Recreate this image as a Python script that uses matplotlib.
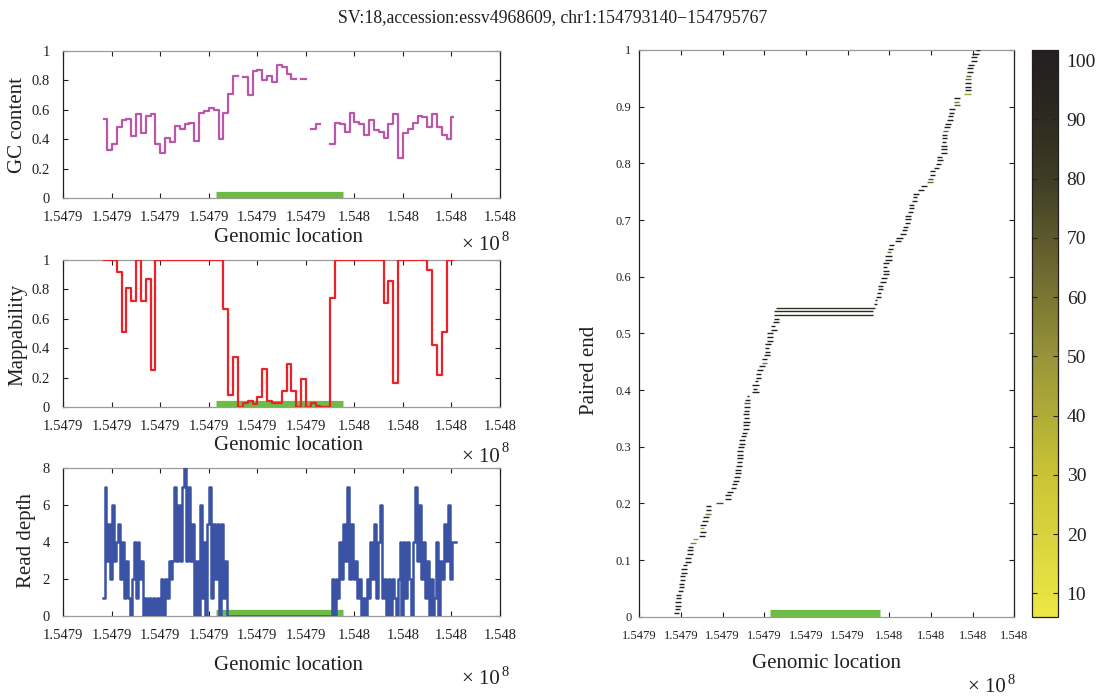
import numpy as np
import matplotlib
matplotlib.use("Agg")
import matplotlib.pyplot as plt
from matplotlib.collections import LineCollection
from matplotlib.colors import LinearSegmentedColormap, Normalize
from matplotlib.cm import ScalarMappable

plt.rcParams['font.family'] = ['Liberation Serif', 'DejaVu Serif']
TXT = '#231f20'

# ---------------- data ----------------
title = "SV:18,accession:essv4968609, chr1:154793140\u2212154795767"
sv_start, sv_end = 154793140, 154795767
xtick_vals = [154790000, 154791000, 154792000, 154793000, 154794000,
              154795000, 154796000, 154797000, 154798000, 154799000]
xtick_labels = ['1.5479', '1.5479', '1.5479', '1.5479', '1.5479', '1.5479',
                '1.548', '1.548', '1.548', '1.548']
unit_ticks = [0, 0.2, 0.4, 0.6, 0.8, 1]
unit_tick_labels = ['0', '0.2', '0.4', '0.6', '0.8', '1']
rd_ticks = [0, 2, 4, 6, 8]
pe_ticks = [0, 0.1, 0.2, 0.3, 0.4, 0.5, 0.6, 0.7, 0.8, 0.9, 1]
pe_tick_labels = ['0', '0.1', '0.2', '0.3', '0.4', '0.5', '0.6', '0.7', '0.8', '0.9', '1']
cb_ticks = [10, 20, 30, 40, 50, 60, 70, 80, 90, 100]

# GC content / mappability: 100 bp bins (first partial bin starts at 154790840)
bin_first = 154790840
bin_start = 154790900
bin_size = 100
bin_last_end = 154798030
nan = np.nan
gc_first, gc_last = 0.54, 0.55
gc_values = [0.33, 0.37, 0.48, 0.53, 0.54, 0.42, 0.57, 0.44, 0.56, 0.57,
             0.37, 0.31, 0.41, 0.38, 0.49, 0.47, 0.50, 0.51, 0.39, 0.58,
             0.59, 0.61, 0.60, 0.40, 0.58, 0.71, 0.83, nan, 0.82, 0.70,
             0.86, 0.87, 0.80, 0.83, 0.79, 0.90, 0.89, 0.84, 0.81, nan,
             0.81, nan, 0.47, 0.50, nan, nan, 0.37, 0.51, 0.50, 0.45,
             0.58, 0.52, 0.50, 0.43, 0.53, 0.46, 0.45, 0.41, 0.50, 0.57,
             0.27, 0.44, 0.47, 0.51, 0.56, 0.55, 0.48, 0.57, 0.48, 0.43,
             0.40]
map_first, map_last = 1.0, 1.0
map_values = [1.0, 1.0, 0.92, 0.51, 0.81, 0.72, 1.0, 0.72, 0.87, 0.25,
              1.0, 1.0, 1.0, 1.0, 1.0, 1.0, 1.0, 1.0, 1.0, 1.0,
              1.0, 1.0, 1.0, 1.0, 0.67, 0.08, 0.34, 0.0, 0.03, 0.04,
              0.02, 0.07, 0.26, 0.04, 0.03, 0.03, 0.11, 0.29, 0.11, 0.0,
              0.19, 0.0, 0.03, 0.01, 0.0, 0.0, 0.74, 1.0, 1.0, 1.0,
              1.0, 1.0, 1.0, 1.0, 1.0, 1.0, 1.0, 0.71, 0.86, 0.16,
              1.0, 1.0, 1.0, 1.0, 1.0, 1.0, 0.93, 0.42, 0.22, 0.51,
              1.0]

# Read depth: 40 bp bins from 154790810
rd_start = 154790810
rd_step = 40
rd_values = ([1, 7, 3, 5, 2, 6, 3, 4, 5, 2,
              4, 1, 3, 1, 0, 2, 4, 1, 4, 2,
              3, 0, 1, 0, 1, 0, 1, 0, 1, 0,
              2, 0, 2, 1, 3, 2, 3, 7, 3, 6,
              3, 7, 8, 3, 7, 3, 5, 0, 3, 0,
              6, 1, 4, 0, 5, 7, 1, 5, 2, 5,
              0, 5, 1, 3] + [0] * 54 +
             [2, 0, 2, 1, 4, 2, 5, 3, 7, 2,
              5, 2, 3, 1, 2, 0, 1, 0, 2, 1,
              4, 2, 5, 1, 4, 6, 1, 2, 0, 2,
              0, 2, 1, 0, 2, 4, 0, 4, 1, 4,
              2, 0, 4, 7, 3, 6, 2, 4, 1, 3,
              0, 2, 0, 1, 4, 0, 3, 2, 5, 3,
              6, 2, 4, 4])

# Paired-end fragments (offsets from 154790000), sorted; quality for colour
pe_origin = 154790000
pe_start = [833, 849, 849, 865, 881, 881, 929, 945, 945, 977,
            977, 993, 1009, 1041, 1089, 1105, 1137, 1153, 1169, 1217,
            1297, 1441, 1457, 1457, 1457, 1505, 1521, 1585, 1601, 1601,
            1841, 2065, 2065, 2113, 2193, 2225, 2257, 2273, 2289, 2305,
            2321, 2337, 2337, 2353, 2353, 2369, 2385, 2385, 2433, 2465,
            2481, 2497, 2497, 2513, 2497, 2513, 2513, 2513, 2545, 2577,
            2705, 2721, 2705, 2769, 2801, 2801, 2833, 2881, 2945, 2945,
            2993, 3009, 3009, 3025, 3057, 3057, 3073, 3153, 3153, 3201,
            3233, 3233, 3233, 3281, 5633, 5665, 5681, 5713, 5729, 5729,
            5777, 5793, 5857, 5857, 5857, 5857, 5905, 5905, 5953, 5969,
            6001, 6145, 6161, 6257, 6305, 6321, 6369, 6385, 6385, 6449,
            6465, 6481, 6545, 6561, 6577, 6689, 6769, 6913, 6929, 6977,
            6977, 7073, 7121, 7137, 7153, 7233, 7233, 7249, 7265, 7265,
            7265, 7281, 7313, 7345, 7377, 7409, 7425, 7425, 7553, 7553,
            7553, 7793, 7809, 7809, 7825, 7825, 7841, 7873, 7873, 7889,
            7953, 7969, 7985, 8081]
pe_end = [960, 977, 993, 993, 1009, 1009, 1057, 1073, 1073, 1105,
          1105, 1153, 1153, 1153, 1233, 1233, 1297, 1297, 1297, 1361,
          1409, 1585, 1601, 1553, 1601, 1649, 1665, 1729, 1729, 1729,
          2017, 2193, 2193, 2241, 2321, 2353, 2401, 2417, 2433, 2449,
          2465, 2465, 2481, 2481, 2481, 2513, 2529, 2529, 2561, 2593,
          2625, 2625, 2657, 2641, 2641, 2641, 2657, 2657, 2657, 2641,
          2865, 2833, 2865, 2849, 2913, 2913, 2977, 3025, 3057, 3073,
          3137, 3137, 3121, 3153, 3201, 3217, 3201, 3313, 3265, 3345,
          3353, 5601, 5601, 5649, 5713, 5713, 5809, 5809, 5857, 5841,
          5921, 5937, 5985, 5985, 5953, 5985, 6065, 6065, 6033, 6097,
          6113, 6273, 6321, 6401, 6417, 6449, 6497, 6513, 6513, 6577,
          6593, 6593, 6657, 6673, 6721, 6833, 6897, 7041, 7057, 7105,
          7105, 7185, 7249, 7281, 7265, 7377, 7377, 7377, 7361, 7377,
          7393, 7409, 7457, 7473, 7521, 7537, 7553, 7585, 7697, 7681,
          7697, 7969, 7953, 7969, 7969, 7953, 7969, 8017, 8017, 8033,
          8097, 8097, 8145, 8177]
pe_quality = [100] * 154
for idx, q in {19: 55, 20: 50, 23: 50, 27: 60, 30: 75, 57: 70, 68: 60,
               81: 88, 82: 90, 83: 85, 98: 65, 117: 65, 118: 75, 131: 65,
               138: 70, 139: 60, 141: 45, 145: 65, 146: 70}.items():
    pe_quality[idx] = q
cb_min, cb_max = 6, 101.8

# ---------------- style ----------------
GREEN = '#6dbd45'
GC_C = '#b957a8'
MAP_C = '#ec2227'
RD_C = '#3a53a4'
cmap = LinearSegmentedColormap.from_list('qual', [
    (0.0, '#ede845'), (0.25, '#c9c435'), (0.45, '#9a9639'),
    (0.62, '#6a6630'), (0.78, '#3d3a24'), (0.9, '#2a2720'), (1.0, '#231f20')])

W, H = 1105, 699
fig = plt.figure(figsize=(W / 100, H / 100), dpi=100)


def rect(l, t, r, b):
    return [l / W, 1 - b / H, (r - l) / W, (b - t) / H]


def style(ax, fs, xpad, ypad):
    for s in ['left', 'right']:
        ax.spines[s].set_color(TXT)
    for s in ['top', 'bottom']:
        ax.spines[s].set_color('#9b9b9b')
    for sp in ax.spines.values():
        sp.set_linewidth(0.9)
    ax.tick_params(direction='in', length=3.5, width=0.8, color=TXT,
                   labelcolor=TXT, labelsize=fs, top=True, right=True)
    ax.tick_params(axis='x', pad=xpad)
    ax.tick_params(axis='y', pad=ypad)


def ftext(x, y, s, **kw):
    kw.setdefault('color', TXT)
    fig.text(x / W, 1 - y / H, s, **kw)


def times10(x, y):
    ftext(x, y, '\u00d7 10', fontsize=15, ha='left', va='center')
    ftext(x + 40, y - 8, '8', fontsize=10.5, ha='left', va='center')


gc_x = [bin_first] + [bin_start + bin_size * j for j in range(len(gc_values) + 1)] + [bin_last_end]
gc_y = [gc_first] + gc_values + [gc_last, gc_last]
map_y = [map_first] + map_values + [map_last, map_last]
rd_x = [rd_start + rd_step * i for i in range(len(rd_values) + 1)]
rd_y = rd_values + [rd_values[-1]]

left_panels = [
    (rect(63.3, 50.7, 500, 198.3), gc_y, GC_C, (0, 1), unit_ticks, unit_tick_labels, 0.021, 'GC content', 125, 18),
    (rect(63.3, 260, 500, 407), map_y, MAP_C, (0, 1), unit_ticks, unit_tick_labels, 0.018, 'Mappability', 335, 18),
    (rect(63.3, 468.3, 500, 616), rd_y, RD_C, (0, 8), rd_ticks, [str(t) for t in rd_ticks], 0.145, 'Read depth', 540, 26),
]
xlabel_y = [238, 445, 665]
tenpow_y = [246, 457, 680]
for k, (r, yv, col, ylim, yt, ytl, gy, ylab, ylab_y, ylab_x) in enumerate(left_panels):
    ax = fig.add_axes(r)
    ax.plot([sv_start, sv_end], [gy, gy], color=GREEN, lw=5.2,
            solid_capstyle='butt', zorder=2)
    xs = rd_x if k == 2 else gc_x
    ax.step(xs, yv, where='post', color=col, lw=1.6 if k < 2 else 1.8, zorder=3)
    ax.set_xlim(xtick_vals[0], xtick_vals[-1])
    ax.set_ylim(*ylim)
    ax.set_xticks(xtick_vals)
    ax.set_xticklabels(xtick_labels)
    ax.set_yticks(yt)
    ax.set_yticklabels(ytl)
    style(ax, 10.5, 9.5, 9.5)
    ftext(ylab_x, ylab_y, ylab, fontsize=15, rotation=90, ha='center', va='center')
    ftext(288, xlabel_y[k], 'Genomic location', fontsize=15, ha='center', va='center')
    times10(462, tenpow_y[k])

# Right panel: paired ends
axr = fig.add_axes(rect(639.3, 50, 1014.3, 616.7))
norm = Normalize(vmin=cb_min, vmax=cb_max)
n = len(pe_start)
pe_y = np.arange(1, n + 1) / n
segs = [[(pe_origin + s, y), (pe_origin + e, y)] for s, e, y in zip(pe_start, pe_end, pe_y)]
lc = LineCollection(segs, colors=cmap(norm(np.array(pe_quality))), linewidths=1.0, zorder=3)
axr.plot([sv_start, sv_end], [0.006, 0.006], color=GREEN, lw=5.2,
         solid_capstyle='butt', zorder=2)
axr.add_collection(lc)
axr.set_xlim(xtick_vals[0], xtick_vals[-1])
axr.set_ylim(0, 1)
axr.set_xticks(xtick_vals)
axr.set_xticklabels(xtick_labels)
axr.set_yticks(pe_ticks)
axr.set_yticklabels(pe_tick_labels)
style(axr, 9, 9.5, 5.5)
ftext(590, 370, 'Paired end', fontsize=15, rotation=90, ha='center', va='center')
ftext(827, 663, 'Genomic location', fontsize=15, ha='center', va='center')
times10(968, 688)

# Colorbar
cax = fig.add_axes(rect(1032.3, 49.5, 1058.3, 617))
sm = ScalarMappable(norm=norm, cmap=cmap)
cb = fig.colorbar(sm, cax=cax)
cb.set_ticks(cb_ticks)
cb.outline.set_edgecolor(TXT)
cb.outline.set_linewidth(0.9)
cax.tick_params(direction='in', length=3.5, width=0.8, color=TXT, labelcolor=TXT,
                labelsize=14, left=True, right=True, pad=6)

ftext(553, 18, title, fontsize=12.8, ha='center', va='center')

fig.savefig('out.png', dpi=100)
